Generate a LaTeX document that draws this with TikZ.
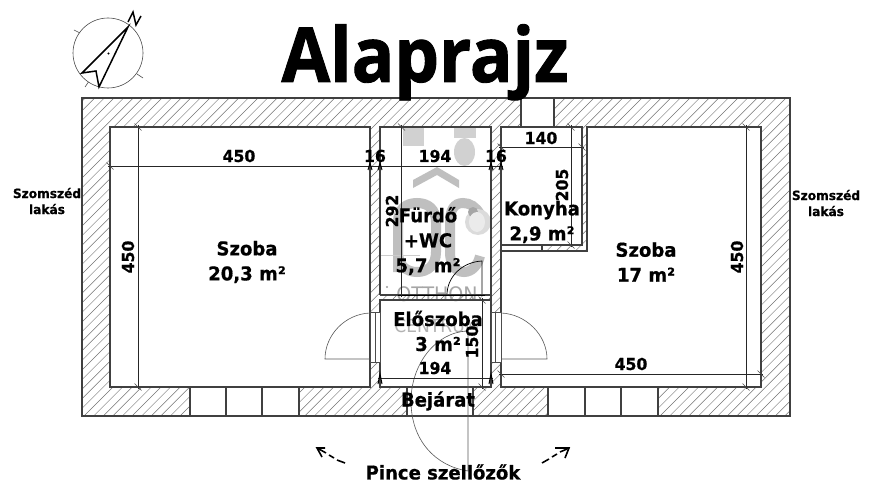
\documentclass[tikz,border=0pt]{standalone}
\usepackage{fontspec}
\setmainfont[FakeStretch=0.95,BoldFeatures={FakeBold=0.6}]{DejaVu Sans}
\newfontfamily\titlefont[FakeStretch=0.93,BoldFeatures={FakeBold=1.2}]{Open Sans}
\begin{document}
\begin{tikzpicture}[x=1pt,y=-1pt,
  wall/.style={draw=black!75,line width=1.2pt},
  dim/.style={draw=black!85,line width=0.8pt},
  tick/.style={draw=black!70,line width=0.4pt},
  hatch/.style={draw=black!55,line width=0.45pt},
  thin arc/.style={draw=black!65,line width=0.6pt},
  lab/.style={font=\bfseries\fontsize{19}{23}\selectfont,align=center,inner sep=0pt,text=black},
  dimlab/.style={font=\bfseries\fontsize{16.5}{18}\selectfont,inner sep=0pt,text=black},
  small/.style={font=\bfseries\fontsize{12.8}{16}\selectfont,align=center,inner sep=0pt,text=black},
  fixture/.style={fill=black!18,draw=none},
  wm/.style={draw=none,fill=black!25},
  oc/.style={draw=black!25,line width=10pt,line cap=butt},
]
\useasboundingbox (0,0) rectangle (873,500);
\fill[white] (0,0) rectangle (873,500);
% hatching
\begin{scope}
  \clip (82,98) rectangle (790,416);
  \foreach \k in {-300,-290.4,...,800} {\draw[hatch] (\k,416) -- (\k+318,98);}
\end{scope}
% rooms
\fill[white] (110,127) rectangle (370,387);
\fill[white] (380,127) rectangle (491,295);
\fill[white] (380,300) rectangle (491,387);
\fill[white] (501,127) rectangle (582,245);
\fill[white] (501,245) rectangle (542,251);
\fill[white] (587,127) -- (761,127) -- (761,387) -- (501,387) -- (501,251) -- (587,251) -- cycle;
\fill[white] (521,98) rectangle (554,127);
\fill[white] (190,387) rectangle (299,416);
\fill[white] (407,387) rectangle (473,416);
\fill[white] (548,387) rectangle (658,416);
\fill[white] (370,312) rectangle (380,362);
\fill[white] (491,312) rectangle (501,362);
% watermark
\fill[wm] (413,180) -- (437,167) -- (459,180) -- (459,188) -- (437,175) -- (413,188) -- cycle;
\draw[oc] (398,272) -- (398,222) .. controls (398,209) and (406,203) .. (417,203) .. controls (428,203) and (436,209) .. (436,222) -- (436,252) .. controls (436,265) and (428,272) .. (417,272) .. controls (406,272) and (398,265) .. (398,252);
\draw[oc] (480,214) .. controls (476,207) and (470,203) .. (463,203) .. controls (454,203) and (450,210) .. (450,222) -- (450,252) .. controls (450,265) and (456,272) .. (464,272) .. controls (472,272) and (478,265) .. (480,256);
\node[font=\fontsize{20}{22}\selectfont,text=black!35,inner sep=0pt] (wmA) at (437,294) {OTTHON};
\node[font=\fontsize{18}{20}\selectfont,text=black!30,inner sep=0pt] (wmB) at (437,326) {CENTRUM};
% fixtures
\fill[fixture] (403,127) rectangle (424,146);
\fill[fixture] (454,128) rectangle (476,138);
\fill[fixture] (464.5,152) ellipse (10.5 and 14);
\fill[black!14] (478,222) circle (13);
\fill[black!35] (473,212) circle (5);
\fill[black!8] (477,222) ellipse (8 and 10);
\draw[black!20,line width=0.5pt] (381,255) -- (420,255);
\fill[black!40] (387,287) circle (1.2);
\draw[black,line width=0.7pt] (482,295) -- (482,261) .. controls (462,262) and (447,277) .. (447,295);
% walls
\draw[wall] (82,98) rectangle (790,416);
\draw[wall] (110,127) -- (370,127) -- (370,387) -- (110,387) -- cycle;
\draw[wall] (380,295) -- (380,127) -- (491,127) -- (491,387) -- (380,387) -- (380,300) -- (491,300);
\draw[wall] (380,295) -- (491,295);
\draw[black,line width=1.8pt] (398,295.5) -- (485,295.5);
\draw[wall] (501,251) -- (501,127) -- (582,127) -- (582,245) -- (501,245);
\draw[wall] (587,127) -- (761,127) -- (761,387) -- (501,387) -- (501,251) -- (587,251) -- cycle;
\draw[wall] (542,245) -- (542,251);
\draw[wall] (521,98) -- (521,127) (554,98) -- (554,127);
% openings
\draw[wall] (190,387) -- (190,416) (226,387) -- (226,416) (262,387) -- (262,416) (299,387) -- (299,416);
\draw[wall] (407,387) -- (407,416) (473,387) -- (473,416);
\draw[wall] (548,387) -- (548,416) (585,387) -- (585,416) (621,387) -- (621,416) (658,387) -- (658,416);
\draw[draw=black!70,line width=0.6pt,fill=white] (370,312) rectangle (380,362) (375.5,312) -- (375.5,362);
\draw[draw=black!70,line width=0.6pt,fill=white] (491,312) rectangle (501,362) (495.5,312) -- (495.5,362);
% door swings
\draw[thin arc] (370,313) .. controls (345,314) and (325,335) .. (325,359) -- (370,359);
\draw[thin arc] (501,313) .. controls (526,314) and (547,335) .. (547,359) -- (501,359);
\draw[thin arc] (468,331) .. controls (435,332) and (411,365) .. (411,401) .. controls (411,440) and (435,466) .. (468,471) -- cycle;
% dimension lines
\draw[dim] (108,166) -- (503,166);
\draw[dim] (138,125) -- (138,389);
\draw[dim] (401.5,125) -- (401.5,297);
\draw[dim] (499,147) -- (584,147);
\draw[dim] (571,125) -- (571,247);
\draw[dim] (746,125) -- (746,389);
\draw[dim] (499,374) -- (763,374);
\draw[dim] (378,378) -- (493,378);
\draw[dim] (482,298) -- (482,389);
\foreach \x/\y in {110/166,138/127,138/387,401.5/127,501/147,582/147,571/127,571/245,746/127,746/387,761/374,501/374,482/300,482/387}
  \draw[tick] (\x-3.5,\y-3.5) -- (\x+3.5,\y+3.5);
\foreach \x in {370,380,491,501}
  \draw[black,line width=1pt] (\x-2,170) -- (\x,163) -- (\x+2,170);
\foreach \x in {380,491}
  \draw[black,line width=1pt] (\x-2,384) -- (\x,374) -- (\x+2,384);
% compass
\draw[black!70,line width=0.6pt] (108,53) circle (35);
\draw[black!70,line width=0.6pt] (74,30) -- (80,33) (137,74) -- (143,78) (85,87) -- (88.5,82);
\draw[black,line width=1.5pt,line join=miter] (128,27) -- (82,73) -- (96,71) -- (99,87) -- cycle;
\draw[black,line width=1.5pt] (128,22) -- (133,12) -- (136,25) -- (141,16);
\fill[black] (108.5,53.5) circle (1.1);
% arrows
\draw[black,line width=1.6pt] (325,448) -- (317,448) -- (322,457) (319,449) -- (326,453) (329,455) -- (334,458) (337,460) -- (345,463);
\draw[black,line width=1.6pt] (555,448) -- (569,448) -- (565,458) (567,449) -- (560,452) (557,454) -- (552,457) (549,459) -- (542,463);
% text
\node[font=\titlefont\bfseries\fontsize{76}{80}\selectfont,inner sep=0pt,anchor=base] (title) at (425,82) {Alaprajz};
\node[small] (n1) at (47,201) {Szomszéd\\lakás};
\node[small] (n2) at (826,203) {Szomszéd\\lakás};
\node[lab] (r1) at (247,262) {Szoba\\[2pt]20,3 m²};
\node[lab] (r2) at (646,262) {Szoba\\[2pt]17 m²};
\node[lab] (r3) at (428,241) {Fürdő\\[2pt]+WC\\[2pt]5,7 m²};
\node[lab] (r4) at (542,222) {Konyha\\[2pt]2,9 m²};
\node[lab] (r5) at (438,331) {Előszoba\\[2pt]3 m²};
\node[lab] (r6) at (438,401) {Bejárat};
\node[lab] (r7) at (443,472) {Pince szellőzők};
\node[dimlab] (d1) at (239,156) {450};
\node[dimlab] (d2) at (375,156) {16};
\node[dimlab] (d3) at (435,156) {194};
\node[dimlab] (d4) at (496,156) {16};
\node[dimlab] (d5) at (541,138) {140};
\node[dimlab] (d6) at (631,364) {450};
\node[dimlab] (d7) at (435,368) {194};
\node[dimlab,rotate=90] (d8) at (128,257) {450};
\node[dimlab,rotate=90] (d9) at (737,257) {450};
\node[dimlab,rotate=90] (d10) at (392,211) {292};
\node[dimlab,rotate=90] (d11) at (562,185) {205};
\node[dimlab,rotate=90] (d12) at (472,342) {150};
\end{tikzpicture}
\end{document}
